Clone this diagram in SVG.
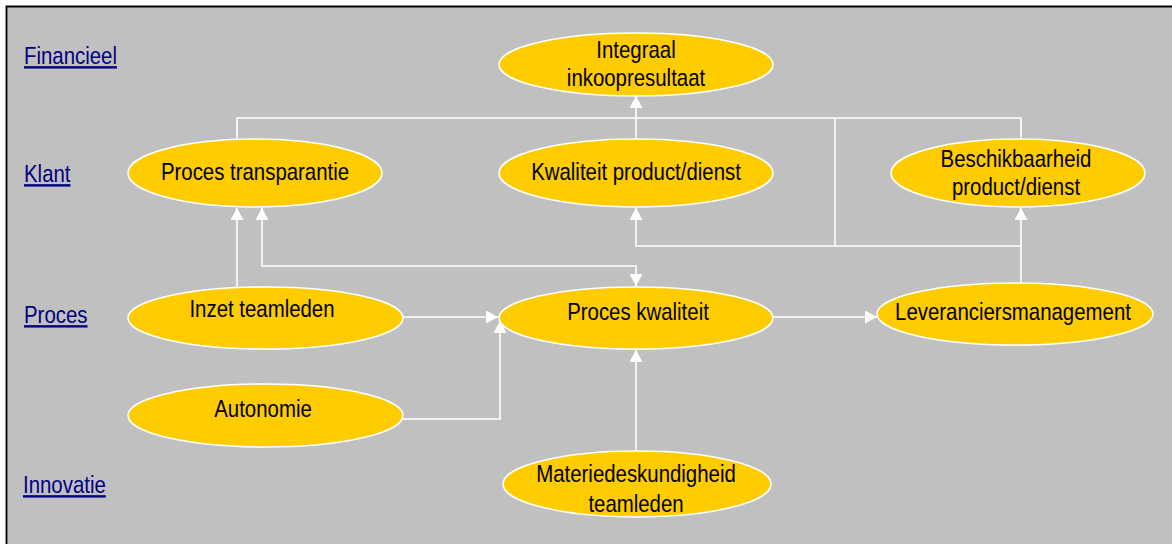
<svg xmlns="http://www.w3.org/2000/svg" width="1172" height="544" viewBox="0 0 1172 544">
  <style>
    .node ellipse { fill: #FFCC00; stroke: #FFFFFF; stroke-width: 1.6; }
    .node text { font-family: "Liberation Sans", Arial, sans-serif; font-size: 24px; fill: #000000; text-anchor: middle; }
    .lbl { font-family: "Liberation Sans", Arial, sans-serif; font-size: 24px; fill: #000080; text-decoration: underline; }
    .conn { fill: none; stroke: #FFFFFF; stroke-width: 1.6; }
  </style>
  <defs>
    <marker id="arr" markerUnits="userSpaceOnUse" markerWidth="13" markerHeight="13" refX="12" refY="6.5" orient="auto">
      <path d="M0,0 L12,6.5 L0,13 z" fill="#FFFFFF"/>
    </marker>
  </defs>
  <rect x="0" y="0" width="1172" height="544" fill="#FFFFFF"/>
  <rect x="7" y="7" width="1165" height="537" fill="#C0C0C0"/>
  <path d="M6.5,544 L6.5,6.5 L1172,6.5" fill="none" stroke="#000000" stroke-width="1.8"/>

  <g id="labels">
    <text class="lbl" transform="matrix(0.85 0 0 1 24 64)">Financieel</text>
    <text class="lbl" transform="matrix(0.85 0 0 1 24 182)">Klant</text>
    <text class="lbl" transform="matrix(0.85 0 0 1 24 323)">Proces</text>
    <text class="lbl" transform="matrix(0.85 0 0 1 23 493)">Innovatie</text>
  </g>

  <g id="connectors">
    <path class="conn" d="M237,139 L237,118 L1021,118 L1021,139"/>
    <path class="conn" d="M636,139 L636,118"/>
    <path class="conn" marker-end="url(#arr)" d="M636,118 L636,96"/>
    <path class="conn" d="M835,118 L835,246"/>
    <path class="conn" marker-end="url(#arr)" d="M1021,246 L636,246 L636,208"/>
    <path class="conn" marker-end="url(#arr)" d="M1021,283 L1021,208"/>
    <path class="conn" marker-end="url(#arr)" d="M450,266 L262,266 L262,208"/>
    <path class="conn" marker-end="url(#arr)" d="M450,266 L636,266 L636,286"/>
    <path class="conn" marker-end="url(#arr)" d="M237,287 L237,208"/>
    <path class="conn" marker-end="url(#arr)" d="M403,317 L498,317"/>
    <path class="conn" marker-end="url(#arr)" d="M403,419 L500,419 L500,321"/>
    <path class="conn" marker-end="url(#arr)" d="M773,317 L877,317"/>
    <path class="conn" marker-end="url(#arr)" d="M636,451 L636,350"/>
  </g>

  <g id="n-integraal" class="node">
    <ellipse cx="636" cy="64.5" rx="137" ry="31.5"/>
    <text transform="matrix(0.85 0 0 1 636 58)">Integraal</text>
    <text transform="matrix(0.85 0 0 1 636 86)">inkoopresultaat</text>
  </g>
  <g id="n-transparantie" class="node">
    <ellipse cx="255" cy="173" rx="127" ry="34"/>
    <text transform="matrix(0.85 0 0 1 255 180)">Proces transparantie</text>
  </g>
  <g id="n-kwaliteit-product" class="node">
    <ellipse cx="636" cy="173" rx="137" ry="34"/>
    <text transform="matrix(0.85 0 0 1 636 180)">Kwaliteit product/dienst</text>
  </g>
  <g id="n-beschikbaarheid" class="node">
    <ellipse cx="1018" cy="173" rx="127" ry="34"/>
    <text transform="matrix(0.85 0 0 1 1016 167)">Beschikbaarheid</text>
    <text transform="matrix(0.85 0 0 1 1016 195)">product/dienst</text>
  </g>
  <g id="n-inzet" class="node">
    <ellipse cx="265.5" cy="318" rx="137.5" ry="31"/>
    <text transform="matrix(0.85 0 0 1 262 317)">Inzet teamleden</text>
  </g>
  <g id="n-proces-kwaliteit" class="node">
    <ellipse cx="636" cy="318" rx="137" ry="31"/>
    <text transform="matrix(0.85 0 0 1 638 320)">Proces kwaliteit</text>
  </g>
  <g id="n-leveranciers" class="node">
    <ellipse cx="1015" cy="314" rx="138" ry="31"/>
    <text transform="matrix(0.85 0 0 1 1013 320)">Leveranciersmanagement</text>
  </g>
  <g id="n-autonomie" class="node">
    <ellipse cx="265.5" cy="415.5" rx="137.5" ry="31.5"/>
    <text transform="matrix(0.85 0 0 1 263 417)">Autonomie</text>
  </g>
  <g id="n-materie" class="node">
    <ellipse cx="637" cy="484" rx="134" ry="33"/>
    <text transform="matrix(0.85 0 0 1 636 482)">Materiedeskundigheid</text>
    <text transform="matrix(0.85 0 0 1 636 512)">teamleden</text>
  </g>
</svg>
